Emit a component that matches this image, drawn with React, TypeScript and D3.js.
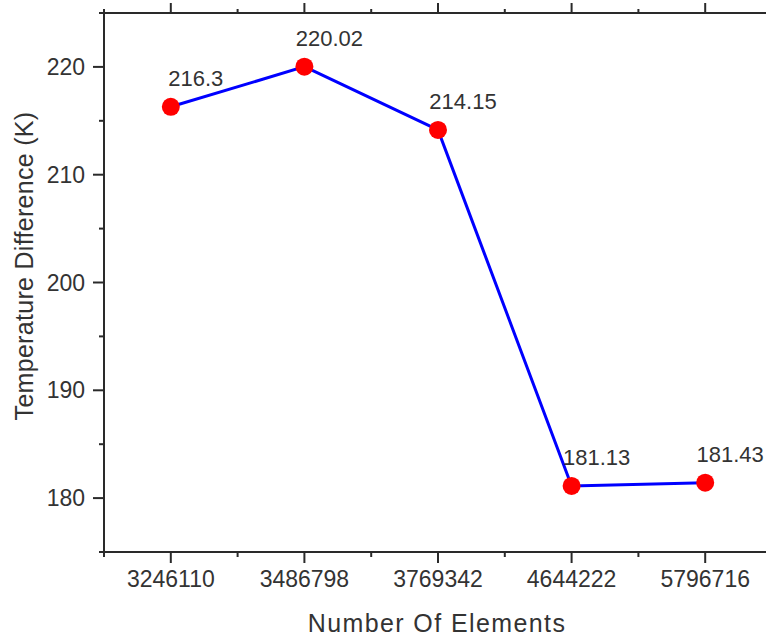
import React from 'react';
import * as d3 from 'd3';

const categories = ['3246110', '3486798', '3769342', '4644222', '5796716'];
const tempDiff = [216.3, 220.02, 214.15, 181.13, 181.43];
const pointLabels = ['216.3', '220.02', '214.15', '181.13', '181.43'];
const yMajor = [180, 190, 200, 210, 220];
const yMinor = [175, 185, 195, 205, 215, 225];

const width = 766;
const height = 639;
const left = 104, right = 772, top = 13, bottom = 552;
const font = '"Liberation Sans", Arial, sans-serif';
const axisCol = '#2a2a2a';
const textCol = '#333';

const App = () => {
  const x = d3.scalePoint<string>().domain(categories).range([left, right]).padding(0.5);
  const y = d3.scaleLinear().domain([175, 225]).range([bottom, top]);
  const step = x.step();

  // minor x ticks sit halfway between categories
  const xMinor = categories.map(c => (x(c) as number) - step / 2);
  xMinor.push((x(categories[categories.length - 1]) as number) + step / 2);

  const line = d3.line<number>()
    .x((d, i) => x(categories[i]) as number)
    .y(d => y(d));

  return (
    <svg width={width} height={height} style={{ position: 'absolute', left: 0, top: 0, background: '#fff' }}>
      {/* axis lines */}
      <line x1={left} x2={right} y1={top} y2={top} stroke={axisCol} strokeWidth={2} />
      <line x1={left} x2={right} y1={bottom} y2={bottom} stroke={axisCol} strokeWidth={2} />
      <line x1={left} x2={left} y1={top - 1} y2={bottom + 1} stroke={axisCol} strokeWidth={2} />

      {/* x ticks, bottom and top */}
      {categories.map(c => (
        <g key={c}>
          <line x1={x(c)} x2={x(c)} y1={bottom} y2={bottom + 11} stroke={axisCol} strokeWidth={2} />
          <line x1={x(c)} x2={x(c)} y1={top} y2={top - 10} stroke={axisCol} strokeWidth={2} />
          <text x={x(c)} y={587} textAnchor="middle" fontFamily={font} fontSize={23} fill={textCol}>{c}</text>
        </g>
      ))}
      {xMinor.map((v, i) => (
        <g key={'xm' + i}>
          <line x1={v} x2={v} y1={bottom} y2={bottom + 5} stroke={axisCol} strokeWidth={2} />
          <line x1={v} x2={v} y1={top} y2={top - 4} stroke={axisCol} strokeWidth={2} />
        </g>
      ))}

      {/* y ticks */}
      {yMajor.map(v => (
        <g key={v}>
          <line x1={left} x2={left - 11} y1={y(v)} y2={y(v)} stroke={axisCol} strokeWidth={2} />
          <text x={85} y={y(v) + 8} textAnchor="end" fontFamily={font} fontSize={23} fill={textCol}>{v}</text>
        </g>
      ))}
      {yMinor.map(v => (
        <line key={'ym' + v} x1={left} x2={left - 5} y1={y(v)} y2={y(v)} stroke={axisCol} strokeWidth={2} />
      ))}

      {/* axis titles */}
      <text x={437} y={632} textAnchor="middle" fontFamily={font} fontSize={25} letterSpacing={1.4} fill={textCol}>
        Number Of Elements
      </text>
      <text transform={`translate(33,266) rotate(-90)`} textAnchor="middle" fontFamily={font} fontSize={25}
        letterSpacing={0.3} fill={textCol}>
        Temperature Difference (K)
      </text>

      {/* series */}
      <path d={line(tempDiff) || ''} fill="none" stroke="#0000ff" strokeWidth={3} />
      {tempDiff.map((v, i) => (
        <circle key={'p' + i} cx={x(categories[i])} cy={y(v)} r={9} fill="#ff0000" />
      ))}
      {tempDiff.map((v, i) => (
        <text key={'l' + i} x={(x(categories[i]) as number) + 25} y={y(v) - 21} textAnchor="middle"
          fontFamily={font} fontSize={22} fill={textCol}>{pointLabels[i]}</text>
      ))}
    </svg>
  );
};

export default App;
